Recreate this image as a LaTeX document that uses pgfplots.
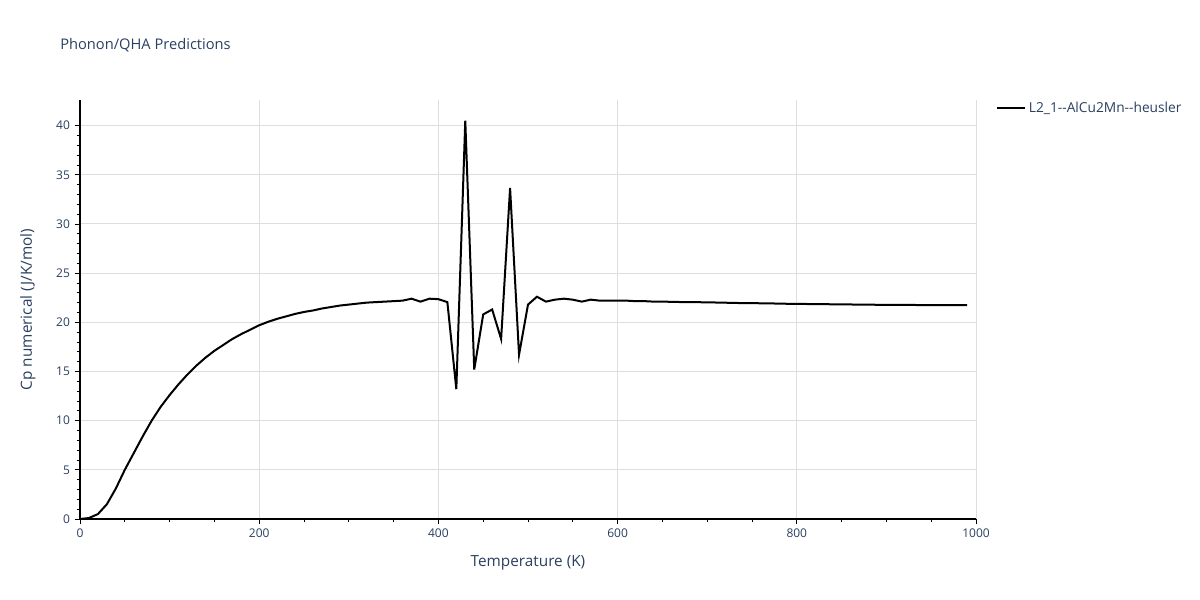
\documentclass[border=0pt]{standalone}
\usepackage{fontspec}
\setmainfont{Open Sans}
\usepackage{pgfplots}
\pgfplotsset{compat=1.18}
\definecolor{plotlytext}{RGB}{42,63,95}
\definecolor{gridgray}{RGB}{222,222,222}

\begin{document}
\begin{tikzpicture}
    % page frame: 1200 x 600 px at 0.75pt per px
    \path (0,0) rectangle (900pt,450pt);
    \node[anchor=west, inner sep=0pt, text=plotlytext, font=\fontsize{11pt}{13pt}\selectfont]
        at (45pt,416.25pt) {Phonon/QHA Predictions};
    \begin{axis}[
        at={(60pt,60.75pt)},
        anchor=south west,
        scale only axis,
        width=672pt,
        height=314.25pt,
        xmin=0, xmax=1000,
        ymin=0, ymax=42.6,
        xtick={0,200,400,600,800,1000},
        ytick={0,5,...,40},
        minor x tick num=3,
        minor y tick num=4,
        axis lines*=left,
        axis line style={black, line width=0.9pt},
        tick align=outside,
        major tick length=4pt,
        minor tick length=2.5pt,
        tick style={black, line width=0.6pt},
        grid=major,
        major grid style={gridgray, line width=0.75pt},
        ticklabel style={text=plotlytext, font=\fontsize{9pt}{10pt}\selectfont},
        /pgf/number format/assume math mode=true,
        /pgf/number format/set thousands separator={},
        xlabel={Temperature (K)},
        ylabel={Cp numerical (J/K/mol)},
        label style={text=plotlytext, font=\fontsize{11.5pt}{13pt}\selectfont},
        xlabel style={at={(axis description cs:0.5,0)}, anchor=center, yshift=-33pt},
        ylabel style={at={(axis description cs:0,0.5)}, anchor=center, yshift=39pt},
        legend style={at={(axis description cs:1,1)}, anchor=north west,
            xshift=12pt, yshift=3pt, draw=none, fill=none,
            font=\fontsize{10.3pt}{11pt}\selectfont, text=plotlytext},
        legend cell align=left,
        legend image code/.code={\draw[#1] (0pt,0pt) -- (21pt,0pt);},
    ]
        \addplot[black, line width=1.5pt] coordinates {
            (0,0) (10,0.1) (20,0.5) (30,1.5) (40,3.1) (50,5.0) (60,6.7)
            (70,8.4) (80,10.0) (90,11.4) (100,12.6) (110,13.7) (120,14.7)
            (130,15.6) (140,16.4) (150,17.1) (160,17.7) (170,18.3) (180,18.8)
            (190,19.25) (200,19.7) (210,20.05) (220,20.35) (230,20.6)
            (240,20.85) (250,21.05) (260,21.2) (270,21.4) (280,21.55)
            (290,21.7) (300,21.8) (310,21.9) (320,22.0) (330,22.05)
            (340,22.1) (350,22.15) (360,22.2) (370,22.4) (380,22.1)
            (390,22.4) (400,22.35) (410,22.05) (420,13.2) (430,40.5)
            (440,15.2) (450,20.8) (460,21.3) (470,18.3) (480,33.65)
            (490,16.7) (500,21.8) (510,22.6) (520,22.1) (530,22.3)
            (540,22.4) (550,22.3) (560,22.1) (570,22.3) (580,22.2)
            (590,22.2) (600,22.2) (610,22.2) (620,22.15) (630,22.15)
            (640,22.1) (650,22.1) (660,22.08) (670,22.06) (680,22.05)
            (690,22.04) (700,22.03) (710,22.01) (720,21.99) (730,21.97)
            (740,21.95) (750,21.95) (760,21.93) (770,21.92) (780,21.9)
            (790,21.88) (800,21.87) (810,21.86) (820,21.85) (830,21.84)
            (840,21.83) (850,21.82) (860,21.81) (870,21.8) (880,21.79)
            (890,21.78) (900,21.78) (910,21.77) (920,21.76) (930,21.76)
            (940,21.75) (950,21.75) (960,21.75) (970,21.74) (980,21.74)
            (990,21.74)
        };
        \addlegendentry{L2\_1{-}{-}AlCu2Mn{-}{-}heusler}
    \end{axis}
\end{tikzpicture}
\end{document}
